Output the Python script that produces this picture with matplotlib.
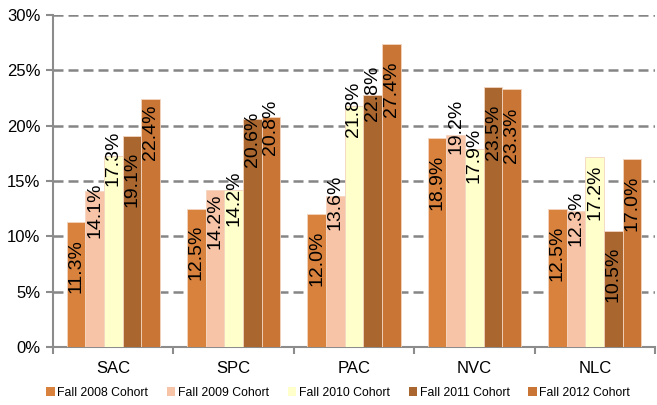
import numpy as np
import matplotlib
matplotlib.use("Agg")
import matplotlib.pyplot as plt
from matplotlib.patches import Rectangle

plt.rcParams['font.family'] = ['Liberation Sans', 'DejaVu Sans']

campuses = ['SAC', 'SPC', 'PAC', 'NVC', 'NLC']
cohorts = ['Fall 2008 Cohort', 'Fall 2009 Cohort', 'Fall 2010 Cohort',
           'Fall 2011 Cohort', 'Fall 2012 Cohort']
fall2008 = [11.3, 12.5, 12.0, 18.9, 12.5]
fall2009 = [14.1, 14.2, 13.6, 19.2, 12.3]
fall2010 = [17.3, 14.2, 21.8, 17.9, 17.2]
fall2011 = [19.1, 20.6, 22.8, 23.5, 10.5]
fall2012 = [22.4, 20.8, 27.4, 23.3, 17.0]
series = [fall2008, fall2009, fall2010, fall2011, fall2012]
yticks = [0, 5, 10, 15, 20, 25, 30]

colors = ['#D8823E', '#F8C4A7', '#FFFFCC', '#A9662F', '#C87535']

# label offsets below bar top (pixels), labels were hand-placed in the original
label_drop = [
    [44, 44, 44, 45, 45],
    [19, 31, 6, -8, 7],
    [3, 8, 4, 6, 36],
    [44, 20, -1, 45, 44],
    [33, 10, 45, 46, 44],
]

fig = plt.figure(figsize=(6.57, 4.05), dpi=100)
ax = fig.add_axes([53 / 657, 1 - 347 / 405, 602 / 657, 332 / 405])

x = np.arange(len(campuses))
w = 0.155
for i, vals in enumerate(series):
    pos = x + (i - 2) * w
    ax.bar(pos, vals, width=w, color=colors[i], edgecolor='#F3D5C0',
           linewidth=0.6, zorder=3, label=cohorts[i])
    for j, v in enumerate(vals):
        ax.annotate(f'{v:.1f}%', xy=(pos[j], v), xytext=(0, -label_drop[i][j]),
                    textcoords='offset pixels', rotation=90, ha='center',
                    va='center', fontsize=14, color='black', zorder=4)

ax.set_xlim(-0.5, 4.5)
ax.set_ylim(0, 30)
ax.set_yticks(yticks)
ax.set_yticklabels([f'{t}%' for t in yticks], fontsize=12)
ax.set_xticks(x)
ax.set_xticklabels(campuses, fontsize=12)
ax.set_xticks(np.arange(-0.5, 5, 1), minor=True)
ax.tick_params(axis='x', which='major', length=0, pad=10)
ax.tick_params(axis='x', which='minor', length=5, width=1.5, color='#8c8c8c')
ax.tick_params(axis='y', length=5, width=1.5, color='#8c8c8c', pad=4)

for t in yticks[1:]:
    ax.axhline(t, color='#858585', linewidth=1.8, dashes=(4, 2), zorder=1)

for s in ['top', 'right']:
    ax.spines[s].set_visible(False)
for s in ['left', 'bottom']:
    ax.spines[s].set_color('#8c8c8c')
    ax.spines[s].set_linewidth(1.5)

handles = [Rectangle((0, 0), 1, 1, facecolor=c, edgecolor='none') for c in colors]
fig.legend(handles, cohorts, loc='center left', bbox_to_anchor=(46 / 657, 1 - 393 / 405),
           ncol=5, frameon=False, fontsize=8.8, handlelength=0.7, handleheight=0.7,
           handletextpad=0.2, columnspacing=1.55, borderpad=0, borderaxespad=0)

fig.savefig('out.png', dpi=100)
